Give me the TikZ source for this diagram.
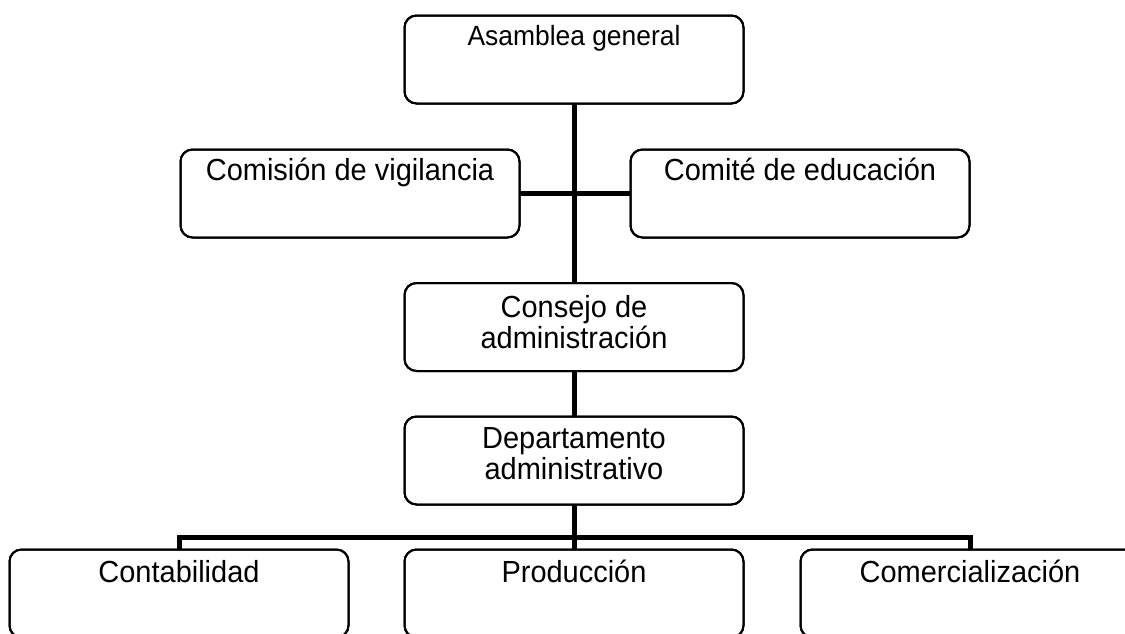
\documentclass[tikz,border=0pt]{standalone}
\usepackage{fontspec}
\setmainfont{Liberation Sans}
\newfontfamily\boxfont[FakeStretch=0.95]{Liberation Sans}
\usetikzlibrary{calc}
\tikzset{
  orgbox/.style={draw=black, line width=2pt, rounded corners=12pt, fill=white,
    minimum width=339pt, minimum height=88pt, inner sep=0pt, outer sep=0pt},
  boxtext/.style={anchor=base, align=center, inner sep=0pt, font=\boxfont\fontsize{30.5}{31}\selectfont},
  smalltext/.style={anchor=base, align=center, inner sep=0pt, font=\boxfont\fontsize{27.8}{30}\selectfont},
  conn/.style={draw=black, line width=5pt}
}
\begin{document}
\begin{tikzpicture}[x=1pt,y=-1pt]
\useasboundingbox (0,0) rectangle (1125,633);
\clip (0,0) rectangle (1125,633);
% boxes
\node[orgbox] (asam) at (574,59.5) {};
\node[orgbox] (comi) at (350,193.5) {};
\node[orgbox] (edu)  at (800,193.5) {};
\node[orgbox] (cons) at (574,327) {};
\node[orgbox] (dept) at (574,460.5) {};
\node[orgbox] (cont) at (179,593.5) {};
\node[orgbox] (prod) at (574,593.5) {};
\node[orgbox] (come) at (970,593.5) {};
% connectors
\coordinate (busL) at (179,537);
\coordinate (busR) at (970,537);
\coordinate (busM) at (574,537);
\coordinate (mid) at (574,193);
\draw[conn] (asam.south) -- (cons.north);
\draw[conn] (comi.east |- mid) -- (edu.west |- mid);
\draw[conn] (cons.south) -- (dept.north);
\draw[conn] (dept.south) -- (busM);
\draw[conn] (cont.north) -- (busL) -- (busR) -- (come.north);
\draw[conn] (busM) -- (prod.north);
% redraw box outlines over connector ends
\foreach \b in {asam,comi,edu,cons,dept,cont,prod,come}{
  \draw[line width=2pt, rounded corners=12pt] (\b.north west) rectangle (\b.south east);
}
% texts
\node[smalltext] (tasam) at ($(asam.north)+(0,30)$) {Asamblea general};
\node[boxtext] (tcomi) at ($(comi.north)+(0,31)$) {Comisión de vigilancia};
\node[boxtext] (tedu) at ($(edu.north)+(0,31)$) {Comité de educación};
\node[boxtext] (tcons) at ($(cons.north)+(0,65)$) {Consejo de\\administración};
\node[boxtext] (tdept) at ($(dept.north)+(0,63)$) {Departamento\\administrativo};
\node[boxtext] (tcont) at ($(cont.north)+(0,33)$) {Contabilidad};
\node[boxtext] (tprod) at ($(prod.north)+(0,33)$) {Producción};
\node[boxtext] (tcome) at ($(come.north)+(0,33)$) {Comercialización};
\end{tikzpicture}
\end{document}
